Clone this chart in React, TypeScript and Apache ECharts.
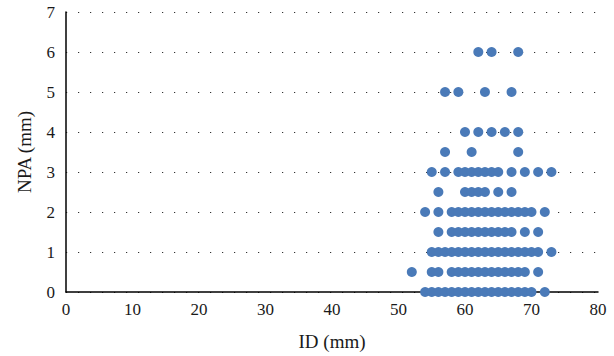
import React, { useEffect, useRef } from "react";
import * as echarts from "echarts";

// ID (mm) values observed at each NPA (mm) level
const idAtNpa0 = [54, 55, 56, 57, 58, 59, 60, 61, 62, 63, 64, 65, 66, 67, 68, 69, 70, 72];
const idAtNpa05 = [52, 55, 56, 58, 59, 60, 61, 62, 63, 64, 65, 66, 67, 68, 69, 71];
const idAtNpa1 = [55, 56, 57, 58, 59, 60, 61, 62, 63, 64, 65, 66, 67, 68, 69, 70, 71, 73];
const idAtNpa15 = [56, 58, 59, 60, 61, 62, 63, 64, 65, 66, 67, 69, 71];
const idAtNpa2 = [54, 56, 58, 59, 60, 61, 62, 63, 64, 65, 66, 67, 68, 69, 70, 72];
const idAtNpa25 = [56, 60, 61, 62, 63, 65, 67];
const idAtNpa3 = [55, 57, 59, 60, 61, 62, 63, 64, 65, 67, 69, 71, 73];
const idAtNpa35 = [57, 61, 68];
const idAtNpa4 = [60, 62, 64, 66, 68];
const idAtNpa5 = [57, 59, 63, 67];
const idAtNpa6 = [62, 64, 68];

const npaLevels = [0, 0.5, 1, 1.5, 2, 2.5, 3, 3.5, 4, 5, 6];
const idByLevel = [idAtNpa0, idAtNpa05, idAtNpa1, idAtNpa15, idAtNpa2, idAtNpa25, idAtNpa3, idAtNpa35, idAtNpa4, idAtNpa5, idAtNpa6];

const xTitle = "ID (mm)";
const yTitle = "NPA (mm)";

export default function App() {
  const ref = useRef<HTMLDivElement>(null);
  useEffect(() => {
    if (!ref.current) return;
    const chart = echarts.init(ref.current, undefined, { renderer: "svg" });
    const points: number[][] = [];
    npaLevels.forEach((npa, i) => {
      idByLevel[i].forEach((id) => points.push([id, npa]));
    });
    const font = "'Liberation Serif', 'DejaVu Serif', serif";
    chart.setOption({
      animation: false,
      backgroundColor: "#ffffff",
      grid: { left: 66, right: 16, top: 12, bottom: 64, containLabel: false },
      xAxis: {
        type: "value",
        min: 0,
        max: 80,
        interval: 10,
        name: xTitle,
        nameLocation: "middle",
        nameGap: 40,
        nameTextStyle: { fontFamily: font, fontSize: 19, color: "#1a1a1a" },
        axisLine: { show: true, lineStyle: { color: "#000", width: 1.5 } },
        axisTick: { show: false },
        axisLabel: { fontFamily: font, fontSize: 17, color: "#1a1a1a", margin: 9 },
        splitLine: { show: false },
      },
      yAxis: {
        type: "value",
        min: 0,
        max: 7,
        interval: 1,
        name: yTitle,
        nameLocation: "middle",
        nameGap: 32,
        nameRotate: 90,
        nameTextStyle: { fontFamily: font, fontSize: 19, color: "#1a1a1a" },
        axisLine: { show: true, lineStyle: { color: "#000", width: 1.5 } },
        axisTick: { show: false },
        axisLabel: { fontFamily: font, fontSize: 17, color: "#1a1a1a", margin: 11 },
        splitLine: {
          show: true,
          lineStyle: { color: "#333", width: 1.2, type: [1.2, 10.8] },
        },
      },
      series: [
        {
          type: "scatter",
          data: points,
          symbol: "circle",
          symbolSize: 10,
          itemStyle: { color: "#4a7ab8", opacity: 1 },
        },
      ],
    });
    return () => chart.dispose();
  }, []);
  return (
    <div
      ref={ref}
      style={{ position: "fixed", left: 0, top: 0, width: 614, height: 356 }}
    />
  );
}
